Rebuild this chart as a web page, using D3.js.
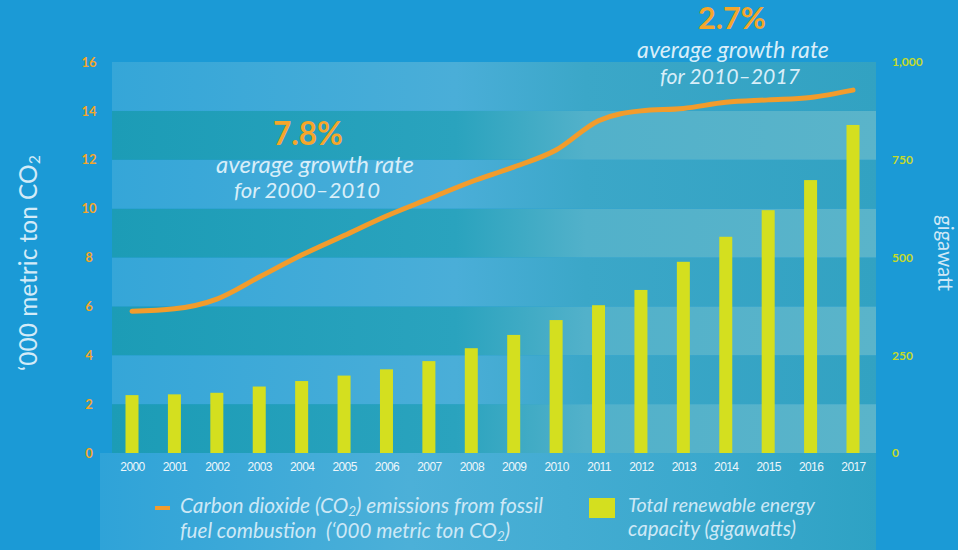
<!DOCTYPE html>
<html>
<head>
<meta charset="utf-8">
<script src="https://cdn.jsdelivr.net/npm/d3@7"></script>
<style>
  html, body { margin: 0; padding: 0; background: #1b9ad6; }
  svg { display: block; }
</style>
</head>
<body>
<svg id="chart" width="958" height="550"></svg>
<script>
// ---- data ----
const years = ["2000","2001","2002","2003","2004","2005","2006","2007","2008","2009","2010","2011","2012","2013","2014","2015","2016","2017"];
const co2 = [5.8, 5.9, 6.3, 7.2, 8.1, 8.9, 9.7, 10.4, 11.1, 11.7, 12.4, 13.6, 14.0, 14.1, 14.35, 14.45, 14.55, 14.85];
const renewable = [148, 150, 154, 170, 184, 198, 214, 235, 268, 302, 340, 378, 417, 489, 553, 621, 698, 839];
const leftTicks = [0, 2, 4, 6, 8, 10, 12, 14, 16];
const rightTicks = [0, 250, 500, 750, 1000];

// ---- layout ----
const svg = d3.select("#chart");
const W = 958, H = 550;
const plotL = 112, plotR = 876, y0 = 453, y1 = 62;

const x = d3.scalePoint().domain(years).range([132, 853]);
const yL = d3.scaleLinear().domain([0, 16]).range([y0, y1]);
const yR = d3.scaleLinear().domain([0, 1000]).range([y0, y1]);

const defs = svg.append("defs");
function lin(id, stops) {
  const g = defs.append("linearGradient").attr("id", id).attr("x1", "0").attr("x2", "1").attr("y1", "0").attr("y2", "0");
  stops.forEach(s => g.append("stop").attr("offset", s[0]).attr("stop-color", s[1]));
}
lin("bandDark", [[0, "#1c9cb6"], [0.45, "#2aa3be"], [0.62, "#52b1ca"], [1, "#5ab4ca"]]);
lin("bandLight", [[0, "#35a6d8"], [0.45, "#4aaed8"], [0.62, "#3ba7c8"], [1, "#32a2c2"]]);
lin("bottomGrad", [[0, "#2fa3d8"], [0.4, "#4cb0d8"], [0.8, "#3aa8cc"], [1, "#2ea2c4"]]);

// background
svg.append("rect").attr("width", W).attr("height", H).attr("fill", "#1b9ad6");
svg.append("rect").attr("x", 100).attr("y", y0).attr("width", plotR - 100).attr("height", H - y0).attr("fill", "url(#bottomGrad)");

// horizontal bands
const bands = d3.range(0, 16, 2);
svg.append("g").selectAll("rect").data(bands).join("rect")
  .attr("x", plotL).attr("width", plotR - plotL)
  .attr("y", d => yL(d + 2)).attr("height", d => yL(d) - yL(d + 2))
  .attr("fill", (d, i) => i % 2 === 0 ? "url(#bandDark)" : "url(#bandLight)");

// bars
const barW = 13;
svg.append("g").selectAll("rect").data(renewable).join("rect")
  .attr("x", (d, i) => x(years[i]) - barW / 2)
  .attr("width", barW)
  .attr("y", d => yR(d))
  .attr("height", d => yR(0) - yR(d))
  .attr("fill", "#d4df1f");

// line
const line = d3.line().x((d, i) => x(years[i])).y(d => yL(d)).curve(d3.curveMonotoneX);
svg.append("path").datum(co2).attr("d", line)
  .attr("fill", "none").attr("stroke", "#f29c2c").attr("stroke-width", 5)
  .attr("stroke-linecap", "round").attr("stroke-linejoin", "round");

// left axis
const axL = svg.append("g").attr("transform", "translate(89,0)")
  .call(d3.axisLeft(yL).tickValues(leftTicks).tickSize(0).tickPadding(0));
axL.select(".domain").remove();
axL.selectAll("text").attr("text-anchor", "middle").attr("fill", "#f4a62a")
  .attr("font-family", "Lato, sans-serif").attr("font-weight", "bold").attr("font-size", 13);

// right axis
const axR = svg.append("g").attr("transform", "translate(892,0)")
  .call(d3.axisRight(yR).tickValues(rightTicks).tickSize(0).tickPadding(0).tickFormat(d3.format(",")));
axR.select(".domain").remove();
axR.selectAll("text").attr("fill", "#c6da2a")
  .attr("font-family", "Lato, sans-serif").attr("font-weight", "bold").attr("font-size", 12);

// x axis
const axX = svg.append("g").attr("transform", `translate(0,${y0 + 9})`)
  .call(d3.axisBottom(x).tickSize(0).tickPadding(0));
axX.select(".domain").remove();
axX.selectAll("text").attr("fill", "#eef7fb")
  .attr("font-family", "'Liberation Sans Narrow', 'Liberation Sans', sans-serif").attr("font-size", 12)
  .attr("letter-spacing", "-0.6");

// helper to fit text to a width
function fit(sel, w) {
  const n = sel.node();
  const fs = parseFloat(sel.attr("font-size"));
  const cur = n.getComputedTextLength();
  if (cur > 0) sel.attr("font-size", (fs * w / cur).toFixed(2));
  return sel;
}
function txt(xp, yp, s, opts) {
  const t = svg.append("text").attr("x", xp).attr("y", yp)
    .attr("font-family", "Lato, sans-serif").attr("font-size", opts.size || 16)
    .attr("fill", opts.fill || "#d8eef9")
    .attr("text-anchor", opts.anchor || "middle")
    .attr("font-style", opts.italic ? "italic" : "normal")
    .attr("font-weight", opts.bold ? "bold" : "normal");
  if (Array.isArray(s)) {
    s.forEach(p => {
      const ts = t.append("tspan").text(p.t);
      if (p.sub) ts.attr("font-size", "0.65em").attr("baseline-shift", "-20%");
    });
  } else t.text(s);
  if (opts.width) fit(t, opts.width);
  return t;
}

// annotations
txt(308, 145, "7.8%", { size: 30, bold: true, fill: "#f5a62b", width: 70 });
txt(315, 173, "average growth rate", { size: 20, italic: true, width: 198 });
txt(307, 198, "for 2000–2010", { size: 20, italic: true, width: 146 });
txt(732, 29, "2.7%", { size: 30, bold: true, fill: "#f5a62b", width: 68 });
txt(733, 58, "average growth rate", { size: 20, italic: true, width: 192 });
txt(730, 84, "for 2010–2017", { size: 20, italic: true, width: 140 });

// axis titles
const lt = txt(0, 0, [{ t: "‘000 metric ton CO" }, { t: "2", sub: true }], { size: 20, fill: "#d3ebf8", width: 216 });
lt.attr("transform", "translate(37,263) rotate(-90)");
const rt = txt(0, 0, "gigawatt", { size: 15, fill: "#cfe8f6", width: 76 });
rt.attr("transform", "translate(938,253) rotate(90)");

// legend
svg.append("rect").attr("x", 155).attr("y", 506).attr("width", 15).attr("height", 4).attr("fill", "#f29c2c");
txt(180, 513, [{ t: "Carbon dioxide (CO" }, { t: "2", sub: true }, { t: ") emissions from fossil" }], { size: 17, italic: true, anchor: "start", fill: "#cde8f6", width: 363 });
txt(180, 538, [{ t: "fuel combustion\u00a0\u00a0(‘000 metric ton CO" }, { t: "2", sub: true }, { t: ")" }], { size: 17, italic: true, anchor: "start", fill: "#cde8f6", width: 330 });
svg.append("rect").attr("x", 589).attr("y", 498).attr("width", 26).attr("height", 20).attr("fill", "#d4df1f");
txt(628, 512, "Total renewable energy", { size: 17, italic: true, anchor: "start", fill: "#cde8f6", width: 187 });
txt(628, 536, "capacity (gigawatts)", { size: 17, italic: true, anchor: "start", fill: "#cde8f6", width: 168 });
</script>
</body>
</html>
